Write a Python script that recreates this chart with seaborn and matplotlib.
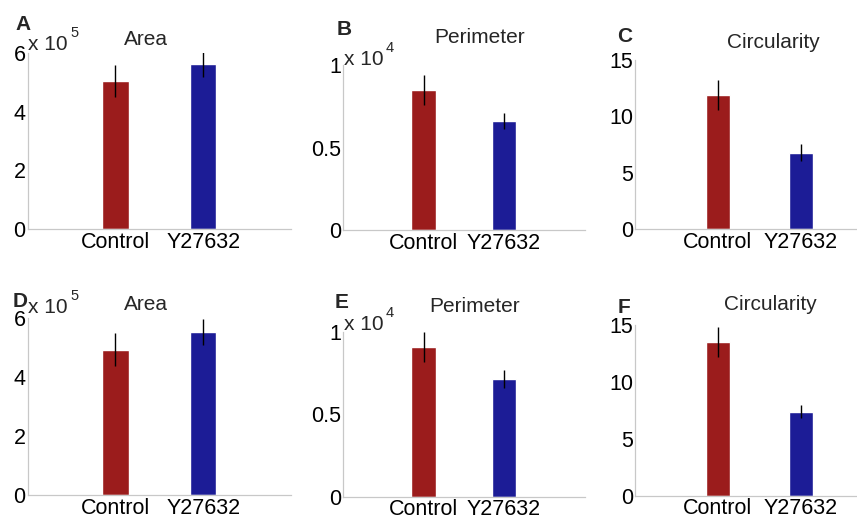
import matplotlib

matplotlib.use("Agg")
import matplotlib.pyplot as plt
import pandas as pd
import seaborn as sns

W, H = 857, 524

groups = ["Control", "Y27632"]
bar_colors = ["#9b1c1c", "#1c1c96"]

# panel A-C (top row), D-F (bottom row); means and error half-widths
area_top = [5.05e5, 5.62e5]
area_top_err = [0.54e5, 0.43e5]
perim_top = [8530, 6650]
perim_top_err = [915, 485]
circ_top = [11.9, 6.8]
circ_top_err = [1.35, 0.75]

area_bot = [4.93e5, 5.52e5]
area_bot_err = [0.55e5, 0.44e5]
perim_bot = [9050, 7110]
perim_bot_err = [905, 545]
circ_bot = [13.55, 7.4]
circ_bot_err = [1.33, 0.6]

area_ticks = [0, 2, 4, 6]
perim_ticks = [0, 0.5, 1]
perim_ticklabels = ["0", "0.5", "1"]
circ_ticks = [0, 5, 10, 15]

# layout in pixels: left, right, bottom, top of each axes
panels = [
    dict(letter="A", title="Area", vals=area_top, errs=area_top_err, scale=1e5, exp="5",
         ticks=area_ticks, labels=None, box=(27.5, 291, 229, 53),
         let_xy=(15, 30), tit_xy=(145.5, 45), exp_xy=(28, 50)),
    dict(letter="B", title="Perimeter", vals=perim_top, errs=perim_top_err, scale=1e4, exp="4",
         ticks=perim_ticks, labels=perim_ticklabels, box=(343, 584.5, 230, 65.4),
         let_xy=(336.5, 35), tit_xy=(479.5, 42.7), exp_xy=(344, 65)),
    dict(letter="C", title="Circularity", vals=circ_top, errs=circ_top_err, scale=1, exp=None,
         ticks=circ_ticks, labels=None, box=(635, 884, 229.3, 60),
         let_xy=(617, 41.7), tit_xy=(773, 48.3), exp_xy=None),
    dict(letter="D", title="Area", vals=area_bot, errs=area_bot_err, scale=1e5, exp="5",
         ticks=area_ticks, labels=None, box=(27.5, 291, 495, 318),
         let_xy=(13, 306.7), tit_xy=(145.5, 310), exp_xy=(28, 313)),
    dict(letter="E", title="Perimeter", vals=perim_bot, errs=perim_bot_err, scale=1e4, exp="4",
         ticks=perim_ticks, labels=perim_ticklabels, box=(343, 584.5, 496.7, 331.7),
         let_xy=(335, 308), tit_xy=(475, 311.5), exp_xy=(344, 330)),
    dict(letter="F", title="Circularity", vals=circ_bot, errs=circ_bot_err, scale=1, exp=None,
         ticks=circ_ticks, labels=None, box=(635, 884, 495.7, 325.3),
         let_xy=(618, 312.7), tit_xy=(770.8, 310), exp_xy=None),
]

sns.set_style("white")
plt.rcParams["font.family"] = ["Liberation Sans", "DejaVu Sans"]

fig = plt.figure(figsize=(W / 100, H / 100), dpi=100)
fig.patch.set_facecolor("white")


def px(x, y):
    return x / W, 1 - y / H


for p in panels:
    l, r, b, t = p["box"]
    ax = fig.add_axes([l / W, 1 - b / H, (r - l) / W, (b - t) / H])
    df = pd.DataFrame({"group": groups, "value": [v / p["scale"] for v in p["vals"]]})
    sns.barplot(data=df, x="group", y="value", hue="group", palette=bar_colors,
                width=0.3, legend=False, ax=ax, saturation=1)
    ax.errorbar(range(len(groups)), df["value"], yerr=[e / p["scale"] for e in p["errs"]],
                fmt="none", ecolor="black", elinewidth=1.0, capsize=0)
    ax.set_xlim(-1, 2)
    ax.set_ylim(p["ticks"][0], p["ticks"][-1])
    ax.set_yticks(p["ticks"])
    if p["labels"] is not None:
        ax.set_yticklabels(p["labels"])
    ax.set_xlabel("")
    ax.set_ylabel("")
    for s in ["top", "right"]:
        ax.spines[s].set_visible(False)
    for s in ["left", "bottom"]:
        ax.spines[s].set_color("#c8c8c8")
        ax.spines[s].set_linewidth(0.9)
    ax.tick_params(axis="y", direction="in", length=3, width=0.8, color="#c8c8c8",
                   labelsize=15.5, pad=1.5, labelcolor="black")
    ax.tick_params(axis="x", length=0, labelsize=15.5, pad=2, labelcolor="black")
    ax.set_facecolor("none")

    fig.text(*px(*p["let_xy"]), p["letter"], fontsize=15, fontweight="bold",
             ha="left", va="baseline")
    fig.text(*px(*p["tit_xy"]), p["title"], fontsize=15, ha="center", va="baseline")
    if p["exp"] is not None:
        ex, ey = p["exp_xy"]
        fig.text(*px(ex, ey), "x 10", fontsize=15, ha="left", va="baseline")
        fig.text(*px(ex + 42, ey - 13), p["exp"], fontsize=10.5, ha="left", va="baseline")

fig.savefig("out.png", dpi=100, facecolor="white")
